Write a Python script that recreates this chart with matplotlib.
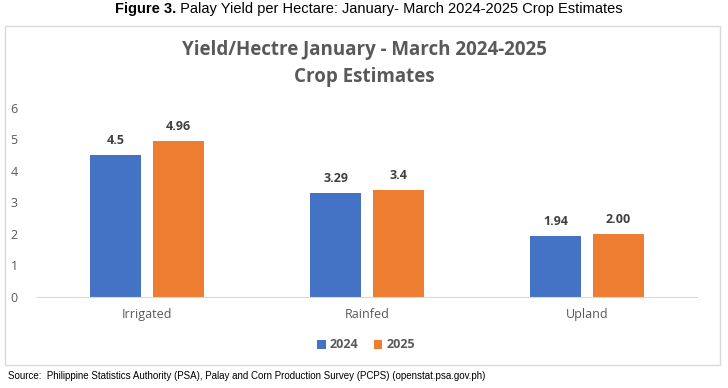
import numpy as np
import matplotlib
matplotlib.use("Agg")
from matplotlib import patches, pyplot as plt

categories = ["Irrigated", "Rainfed", "Upland"]
yield_2024 = [4.5, 3.29, 1.94]
yield_2025 = [4.96, 3.4, 2.00]
labels_2024 = ["4.5", "3.29", "1.94"]
labels_2025 = ["4.96", "3.4", "2.00"]
series_names = ["2024", "2025"]

blue = "#4472C4"
orange = "#ED7D31"
gray = "#595959"

fig = plt.figure(figsize=(7.28, 3.88), dpi=100)

# outer chart border
border = patches.Rectangle((5 / 728, 1 - 365 / 388), 715 / 728, 339 / 388,
                           transform=fig.transFigure, fill=False,
                           edgecolor="#D9D9D9", linewidth=1)
fig.add_artist(border)

# caption: bold prefix + regular text, laid out side by side
cap_y = 1 - 9 / 388
prefix = fig.text(115 / 728, cap_y, "Figure 3.", ha="left", va="center",
                  family="Liberation Sans", fontweight="bold", fontsize=10.5)
fig.canvas.draw()
bbox = prefix.get_window_extent(renderer=fig.canvas.get_renderer())
fig.text(bbox.x1 / fig.bbox.width, cap_y,
         " Palay Yield per Hectare: January- March 2024-2025 Crop Estimates",
         ha="left", va="center", family="Liberation Sans", fontsize=10.5)

fig.text(0.5, 1 - 50 / 388, "Yield/Hectre January - March 2024-2025", ha="center", va="center",
         family="Open Sans", fontweight="bold", fontsize=13.5, color=gray)
fig.text(0.5, 1 - 77 / 388, "Crop Estimates", ha="center", va="center",
         family="Open Sans", fontweight="bold", fontsize=13.5, color=gray)

ax = fig.add_axes([37 / 728, 1 - 297 / 388, 660 / 728, 189 / 388])
x = np.arange(len(categories))
width = 0.228
offset = 0.143
bars_a = ax.bar(x - offset, yield_2024, width, color=blue, label=series_names[0])
bars_b = ax.bar(x + offset, yield_2025, width, color=orange, label=series_names[1])

for bar, text in zip(bars_a, labels_2024):
    ax.text(bar.get_x() + bar.get_width() / 2, bar.get_height() + 0.25, text,
            ha="center", va="bottom", family="Open Sans", fontweight="bold",
            fontsize=9, color="#404040")
for bar, text in zip(bars_b, labels_2025):
    ax.text(bar.get_x() + bar.get_width() / 2, bar.get_height() + 0.25, text,
            ha="center", va="bottom", family="Open Sans", fontweight="bold",
            fontsize=9, color="#404040")

ax.set_xlim(-0.5, 2.5)
ax.set_ylim(0, 6)
ax.set_yticks(range(0, 7))
ax.set_xticks(x)
ax.set_xticklabels(categories)
for spine in ["top", "right", "left"]:
    ax.spines[spine].set_visible(False)
ax.spines["bottom"].set_color("#D9D9D9")
ax.tick_params(axis="both", length=0, colors=gray, labelsize=9)
ax.tick_params(axis="x", pad=8)
ax.tick_params(axis="y", pad=14)
for label in ax.get_xticklabels() + ax.get_yticklabels():
    label.set_family("Open Sans")

leg = fig.legend(handles=[bars_a, bars_b], labels=series_names, loc="center",
                 bbox_to_anchor=(366 / 728, 1 - 345 / 388), ncol=2, frameon=False,
                 handlelength=0.7, handleheight=0.7, handletextpad=0.3, columnspacing=1.2,
                 prop={"family": "Open Sans", "weight": "bold", "size": 9})
for t in leg.get_texts():
    t.set_color(gray)

fig.text(8 / 728, 1 - 376 / 388,
         "Source:  Philippine Statistics Authority (PSA), Palay and Corn Production Survey (PCPS) (openstat.psa.gov.ph)",
         ha="left", va="center", family="Liberation Sans", fontsize=7)

plt.savefig("out.png", dpi=100)
plt.close()
